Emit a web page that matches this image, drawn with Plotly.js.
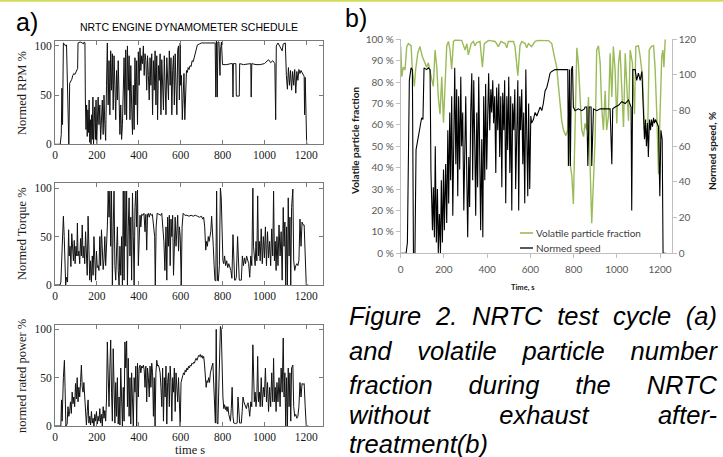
<!DOCTYPE html>
<html>
<head>
<meta charset="utf-8">
<script src="https://cdn.plot.ly/plotly-3.0.1.min.js"></script>
<style>
  html, body { margin: 0; padding: 0; background: #fff; }
  #wrap { position: relative; width: 723px; height: 457px; overflow: hidden; }
  #chart { position: absolute; left: 0; top: 0; width: 723px; height: 457px; }
  .cap { position: absolute; left: 349px; width: 368px; font-family: "Liberation Sans", Arial, sans-serif;
         font-style: italic; font-size: 25.5px; line-height: 28px; color: #000; white-space: nowrap; }
  .cap.j { text-align: justify; text-align-last: justify; white-space: normal; }
</style>
</head>
<body>
<div id="wrap">
  <div id="chart"></div>
  <div class="cap j" style="top:302px">Figure 2. NRTC test cycle (a)</div>
  <div class="cap j" style="top:337px">and volatile particle number</div>
  <div class="cap j" style="top:371px">fraction during the NRTC</div>
  <div class="cap j" style="top:401px">without exhaust after-</div>
  <div class="cap" style="top:430px">treatment(b)</div>
</div>
<script>
// ---------- Panel a: NRTC engine dynamometer schedule ----------
const xTicks = [0, 200, 400, 600, 800, 1000, 1200];

const rpmTime = [0,25,30,33,36,40,45,50,55,60,63,66,70,75,80,85,90,95,100,105,108,110,120,130,135,140,143,145,148,151,154,157,160,163,166,169,172,175,178,181,184,187,190,193,196,199,202,206,210,214,218,222,226,230,234,238,242,246,250,254,258,262,266,270,274,278,282,286,290,294,298,302,306,310,314,318,322,326,330,334,338,342,346,350,354,358,362,366,370,374,378,382,386,390,394,398,402,406,410,414,418,422,426,430,434,438,442,446,450,454,458,462,466,470,474,478,482,486,490,494,498,502,506,510,514,518,522,526,530,534,538,542,546,550,554,558,562,566,570,574,578,582,586,590,594,598,600,604,608,612,616,620,624,628,632,636,640,645,650,655,660,665,670,675,680,690,700,720,740,760,765,768,771,775,778,783,788,790,795,800,820,840,848,850,852,864,866,880,882,900,920,935,937,940,960,980,1000,1010,1020,1030,1040,1050,1054,1057,1065,1075,1085,1090,1095,1100,1105,1110,1115,1120,1125,1130,1135,1140,1145,1150,1155,1160,1165,1170,1175,1180,1185,1190,1192,1195,1198,1202,1210];
const rpmPct = [0,0,10,57,20,103,102,100,101,40,0,0,62,64,66,70,72,71,74,76,77,103,104,103,102,104,103,45,15,40,8,35,12,45,2,25,0,30,5,48,0,22,38,5,45,0,30,48,20,40,5,30,45,10,50,20,4,60,103,40,85,30,95,55,92,35,90,60,25,75,45,85,55,10,40,5,20,60,88,30,96,25,100,55,90,25,80,40,10,60,15,88,40,85,20,94,60,98,75,90,82,100,70,92,85,55,90,70,45,88,60,92,30,85,55,95,40,90,25,80,65,92,30,86,50,35,90,60,30,88,70,45,95,60,88,30,75,90,40,92,60,30,96,100,45,103,60,70,25,65,72,25,70,75,73,78,76,80,79,85,84,88,92,96,101,102,103,103,103,103,103,48,105,48,104,104,70,95,104,81,81,82,82,48,82,82,49,49,82,81,82,82,48,82,81,81,82,84,86,83,85,82,25,100,103,99,95,102,103,103,70,56,78,60,75,55,74,60,76,52,74,65,76,72,75,73,72,69,30,68,40,0,0];

const torqueTime = [0,24,28,32,36,40,44,47,51,55,60,65,68,72,76,80,84,88,92,96,100,104,107,110,114,118,122,126,130,134,138,142,146,150,154,158,162,166,170,174,178,182,186,190,194,198,202,206,210,214,218,222,226,230,234,238,242,246,250,254,258,262,266,270,274,278,282,286,290,294,298,302,306,310,314,318,322,326,330,334,338,342,346,350,354,358,362,366,370,374,378,382,386,390,394,398,402,406,410,414,420,425,430,434,438,442,446,450,455,460,465,470,476,479,483,488,495,500,505,510,515,520,525,530,534,538,542,546,550,554,558,562,566,570,574,578,582,586,590,594,598,603,607,612,620,630,640,650,660,670,680,690,700,705,710,715,720,724,728,732,736,740,744,748,752,756,760,764,768,772,776,780,785,790,794,798,802,806,810,815,820,825,830,840,845,850,854,858,862,866,872,876,880,885,890,895,900,905,910,915,920,925,930,935,940,945,948,952,956,960,964,968,972,976,980,985,990,995,1000,1005,1010,1015,1020,1025,1030,1035,1040,1044,1048,1052,1056,1060,1065,1070,1075,1080,1085,1090,1094,1098,1102,1106,1110,1114,1118,1122,1126,1130,1136,1140,1145,1150,1155,1160,1165,1170,1175,1180,1185,1190,1195,1200,1210];
const torquePct = [0,0,3,22,40,71,50,20,0,8,3,57,30,40,19,53,35,25,46,22,40,30,64,30,35,22,48,30,62,28,40,22,55,30,10,71,30,5,25,3,30,10,50,15,5,35,18,20,15,50,20,57,25,16,26,50,20,35,60,97,70,97,40,97,0,60,97,20,5,35,60,15,0,40,10,50,0,97,5,97,40,97,0,60,90,30,70,5,95,50,0,80,97,60,98,20,65,72,60,73,72,74,55,73,36,73,74,70,74,72,73,60,50,0,60,74,73,73,72,74,60,45,15,60,5,70,40,72,20,68,50,72,10,60,70,40,60,72,35,60,50,0,60,74,72,72,71,72,71,72,71,70,71,68,70,60,36,45,40,50,45,50,55,71,60,40,20,5,4,97,5,4,20,100,90,40,25,22,30,20,25,18,22,15,7,52,10,5,5,8,50,30,5,5,5,30,20,28,22,30,25,22,8,30,20,100,40,30,20,45,25,92,30,45,25,58,22,50,28,60,20,55,28,45,20,58,30,97,25,45,15,50,20,62,30,55,5,80,40,65,0,60,0,90,30,70,0,80,99,25,15,20,22,20,25,68,40,65,62,62,30,0,0];

const powerTime = [0,28,31,34,40,45,48,52,58,62,66,70,74,78,82,86,90,94,98,102,106,110,114,118,122,126,130,134,138,142,146,150,154,158,162,166,170,174,178,182,186,190,194,198,202,206,210,214,218,222,226,230,234,238,242,246,250,254,258,262,266,270,274,278,282,286,290,294,298,302,306,310,314,318,322,326,330,334,338,342,346,350,354,358,362,366,370,374,378,382,386,390,394,398,402,406,410,414,418,422,426,430,434,438,442,446,450,454,458,462,466,470,474,478,482,486,490,494,498,502,506,510,514,518,522,526,530,534,538,542,546,550,554,558,562,566,570,574,578,582,586,590,594,598,602,606,610,614,618,622,626,630,634,638,642,646,650,654,658,662,666,670,674,678,682,686,690,694,698,702,706,710,714,718,722,726,730,734,738,742,746,750,754,758,762,766,770,774,778,782,786,790,794,798,802,806,810,814,818,822,826,830,834,838,842,846,850,854,858,862,866,870,874,878,882,886,890,894,898,902,906,910,914,918,922,926,930,935,940,945,948,952,956,960,964,968,972,976,980,985,990,995,1000,1005,1010,1015,1020,1025,1030,1035,1040,1044,1048,1052,1056,1060,1065,1070,1075,1080,1085,1090,1094,1098,1102,1106,1110,1114,1118,1122,1126,1130,1136,1140,1145,1150,1155,1160,1165,1170,1175,1180,1185,1190,1195,1200,1210];
const powerPct = [0,0,27,5,50,68,40,0,2,20,10,15,25,13,35,23,30,20,44,28,50,25,40,30,45,63,40,35,45,25,10,1,15,27,3,10,1,15,3,8,0,12,5,15,2,10,5,18,3,12,0,20,8,16,5,28,87,45,20,60,89,35,5,80,20,3,45,10,50,2,30,1,60,10,0,40,5,87,60,88,20,70,10,50,2,55,30,0,50,35,62,0,65,30,60,63,55,62,60,63,58,40,62,25,60,50,30,62,40,65,55,10,50,0,55,68,62,63,60,55,40,20,60,5,50,30,62,2,45,55,20,62,45,5,50,35,60,15,55,40,25,50,30,0,45,50,52,55,53,58,56,60,58,62,60,63,62,65,64,66,65,68,70,68,72,73,72,74,71,73,70,72,64,55,40,47,45,50,45,55,60,62,65,40,35,3,100,3,2,40,60,103,100,60,30,18,22,17,20,15,20,12,8,5,18,40,10,3,3,2,3,3,30,10,3,3,3,15,30,25,22,20,18,22,24,18,10,25,20,84,50,25,35,20,30,72,25,35,20,50,20,40,30,60,25,45,15,40,20,55,25,70,25,40,15,45,25,50,20,60,35,91,30,55,0,50,0,60,20,55,5,60,63,20,10,12,8,10,20,45,30,44,43,44,20,0,0];

// ---------- Panel b: volatile particle fraction and normed speed ----------
const vpfTime = [0,5,12,20,28,35,48,54,63,69,79,89,100,110,120,128,136,144,151,159,167,174,182,190,198,205,213,221,228,236,244,252,282,298,306,313,326,336,344,352,367,378,387,406,437,452,464,483,491,498,522,529,542,552,560,576,583,591,606,622,637,684,699,711,722,730,738,745,753,764,773,776,784,792,799,807,815,822,832,838,846,853,861,869,876,884,892,900,907,915,923,930,938,946,953,961,969,977,984,992,1000,1008,1015,1023,1031,1039,1054,1062,1072,1082,1088,1100,1108,1119,1128,1134,1143,1150,1159,1170,1177,1185,1193,1200,1208,1213,1218,1224];
const vpfPct = [96.6,82.5,87,85.7,96.6,98,97,85.7,78,85.7,93.5,96.6,92,89,87,89,85.7,81,78,95,87,73,65,82.5,61,82,97,99,95,86,99,99.7,99.5,95,98,92.7,98,99,97,98.5,99,87,98,99.5,99,96.6,99,98,96,99,99,96.6,83,97,99,98,96,98,96.6,99,99.5,99.4,98,92,87,78,68.5,62,57.6,55,57.6,64,42,36,23,57.6,96,89,65,57.6,54.5,60.7,57.6,73,42,14,34,54.5,95,97,89,68.5,57.6,76,57.6,64,93.5,73,96.6,85.7,60.7,89,95,73,59,93.5,62,95,89,65,96.6,97,92,82.5,57.6,54.5,57.6,95,96.6,97,87,65,37,65,92,95,87,100];

const speedTime = [0,25,31,35,40,48,54,59,66,71,79,85,91,97,103,108,120,128,136,140,147,151,156,160,165,170,174,179,184,188,193,198,202,208,213,218,222,227,231,236,241,245,250,255,259,264,268,273,278,282,287,292,296,301,306,310,315,319,324,329,333,338,343,347,352,356,361,366,370,375,380,384,389,393,398,403,407,412,417,421,426,430,435,440,444,449,454,458,463,468,472,477,481,486,491,495,500,505,509,514,518,523,528,532,537,542,546,551,555,560,565,569,574,579,583,588,592,597,602,606,614,622,630,637,645,653,660,668,676,684,691,699,714,730,745,761,773,776,781,785,790,795,799,807,822,838,850,853,861,866,872,881,884,892,907,923,938,954,969,977,981,992,1008,1023,1039,1054,1066,1069,1074,1085,1092,1100,1108,1116,1123,1128,1133,1137,1142,1146,1151,1156,1160,1165,1170,1174,1179,1185,1193,1199,1204,1210,1214,1227];
const speedPct = [0,0,6,57,97,104,103,0,0,58,64,69,73,76,75,104,103,104,103,45,13,37,9,60,6,36,0,22,0,41,6,47,13,50,17,69,28,79,41,88,21,60,104,50,92,32,88,47,99,60,79,24,69,88,41,9,54,26,79,101,41,97,60,21,79,37,99,50,13,64,9,88,41,95,47,79,101,69,92,79,97,73,88,45,93,69,95,54,88,37,90,69,97,28,88,58,99,45,88,24,84,69,92,36,79,97,24,88,69,92,50,79,28,103,69,32,84,36,77,73,75,79,77,79,82,80,84,91,93,97,101,102,103,103,103,103,103,49,103,49,103,105,82,80,81,80,81,82,82,49,82,82,49,81,80,81,81,81,81,50,81,82,83,85,84,86,82,24,103,103,97,101,97,102,73,64,75,60,73,54,75,69,75,71,76,73,75,73,71,32,69,64,0,0];

const vpfTickVals = [0,10,20,30,40,50,60,70,80,90,100];
const vpfTickText = ["0 %","10 %","20 %","30 %","40 %","50 %","60 %","70 %","80 %","90 %","100 %"];
const speedTickVals = [0,20,40,60,80,100,120];
const seriesNames = ['Volatile particle fraction', 'Normed speed'];
const seriesColors = ['#9bbb59', '#000000'];

// ---------- helpers (pixel -> paper) ----------
const W = 723, H = 457;
const px = x => x / W;
const py = y => 1 - y / H;

const serif = "Liberation Serif, Times New Roman, serif";
const sans = "Liberation Sans, Arial, sans-serif";
const xl = "Lato, Noto Sans, sans-serif";

const traces = [
  {x: rpmTime, y: rpmPct, xaxis: 'x', yaxis: 'y', mode: 'lines', line: {color: '#111', width: 1}, showlegend: false, hoverinfo: 'skip'},
  {x: torqueTime, y: torquePct, xaxis: 'x2', yaxis: 'y2', mode: 'lines', line: {color: '#111', width: 1}, showlegend: false, hoverinfo: 'skip'},
  {x: powerTime, y: powerPct, xaxis: 'x3', yaxis: 'y3', mode: 'lines', line: {color: '#111', width: 1}, showlegend: false, hoverinfo: 'skip'},
  {x: vpfTime, y: vpfPct, xaxis: 'x4', yaxis: 'y4', mode: 'lines', name: seriesNames[0], line: {color: seriesColors[0], width: 1.4}, showlegend: false},
  {x: speedTime, y: speedPct, xaxis: 'x4', yaxis: 'y5', mode: 'lines', name: seriesNames[1], line: {color: seriesColors[1], width: 1.1}, showlegend: false}
];

function aX(dom, anchor) {
  return {domain: dom, anchor: anchor, range: [0, 1280], tickvals: xTicks, ticks: 'inside', ticklen: 4,
    showline: true, mirror: 'ticks', linecolor: '#7a7a7a', tickcolor: '#7a7a7a', linewidth: 1,
    showgrid: false, zeroline: false, tickfont: {family: serif, size: 11.5, color: '#1a1a1a'}};
}
function aY(dom, anchor, top) {
  return {domain: dom, anchor: anchor, range: [0, top], tickvals: [0, 50, 100], ticks: 'inside', ticklen: 4,
    showline: true, mirror: 'ticks', linecolor: '#7a7a7a', tickcolor: '#7a7a7a', linewidth: 1,
    showgrid: false, zeroline: false, tickfont: {family: serif, size: 11.5, color: '#1a1a1a'}};
}

function ann(text, x, y, font, extra) {
  return Object.assign({text: text, xref: 'paper', yref: 'paper', x: px(x), y: py(y),
    xanchor: 'center', yanchor: 'middle', showarrow: false, font: font}, extra || {});
}

// legend drawn as short line samples plus labels (Excel style)
const legendRows = [233, 248];
const legendShapes = seriesNames.map((n, i) => ({type: 'line', xref: 'paper', yref: 'paper',
  x0: px(520), x1: px(533), y0: py(legendRows[i]), y1: py(legendRows[i]),
  line: {color: seriesColors[i], width: i === 0 ? 1.6 : 1.3}}));
const legendTexts = seriesNames.map((n, i) => ann(n, 534, legendRows[i],
  {family: xl, size: 10, color: '#404040'}, {xanchor: 'left'}));

const layout = {
  width: W, height: H, margin: {l: 0, r: 0, t: 0, b: 0},
  paper_bgcolor: '#fff', plot_bgcolor: 'rgba(0,0,0,0)', showlegend: false,
  xaxis: aX([px(55), px(323)], 'y'),
  yaxis: aY([py(144.3), py(41)], 'x', 105),
  xaxis2: aX([px(55), px(323)], 'y2'),
  yaxis2: aY([py(285), py(183.3)], 'x2', 105),
  xaxis3: aX([px(55), px(323)], 'y3'),
  yaxis3: aY([py(426), py(325)], 'x3', 104.5),
  xaxis4: {domain: [px(400.7), px(671.7)], anchor: 'y4', range: [0, 1254], tickvals: xTicks,
    ticks: 'outside', ticklen: 4, ticklabelstandoff: 3, showline: true, linecolor: '#bfbfbf', tickcolor: '#bfbfbf',
    showgrid: false, zeroline: false, tickfont: {family: xl, size: 10, color: '#595959'}},
  yaxis4: {domain: [py(253.3), py(39.3)], anchor: 'x4', range: [0, 100], tickvals: vpfTickVals, ticktext: vpfTickText,
    ticks: 'outside', ticklen: 4, showline: true, linecolor: '#bfbfbf', tickcolor: '#bfbfbf',
    showgrid: false, zeroline: false, tickfont: {family: xl, size: 10, color: '#595959'}},
  yaxis5: {overlaying: 'y4', anchor: 'x4', side: 'right', range: [0, 120], tickvals: speedTickVals,
    ticks: 'outside', ticklen: 4, showline: true, linecolor: '#bfbfbf', tickcolor: '#bfbfbf',
    showgrid: false, zeroline: false, tickfont: {family: xl, size: 10, color: '#595959'}},
  shapes: [
    {type: 'line', xref: 'paper', yref: 'paper', x0: 0, x1: 1, y0: py(0.8), y1: py(0.8),
     line: {color: '#d0dc55', width: 2}}
  ].concat(legendShapes),
  annotations: [
    ann('a)', 27, 22, {family: sans, size: 25, color: '#000'}),
    ann('b)', 356, 18, {family: sans, size: 25, color: '#000'}),
    ann('NRTC ENGINE DYNAMOMETER SCHEDULE', 189, 27, {family: sans, size: 10.5, color: '#000'}),
    ann('Normed RPM %', 22, 93, {family: serif, size: 12.5, color: '#1a1a1a'}, {textangle: -90}),
    ann('Normed Torque %', 22, 234, {family: serif, size: 12.5, color: '#1a1a1a'}, {textangle: -90}),
    ann('normed rated power %', 22, 376, {family: serif, size: 12.5, color: '#1a1a1a'}, {textangle: -90}),
    ann('time s', 190, 450, {family: serif, size: 12.5, color: '#1a1a1a'}),
    ann('<b>Volatile particle fraction</b>', 355, 141, {family: xl, size: 10, color: '#1a1a1a'}, {textangle: -90}),
    ann('<b>Normed speed, %</b>', 712, 151, {family: xl, size: 10, color: '#1a1a1a'}, {textangle: -90}),
    ann('<b>Time, s</b>', 523, 287, {family: xl, size: 7.5, color: '#1a1a1a'})
  ].concat(legendTexts)
};

Plotly.newPlot('chart', traces, layout, {displayModeBar: false, staticPlot: true});
</script>
</body>
</html>
